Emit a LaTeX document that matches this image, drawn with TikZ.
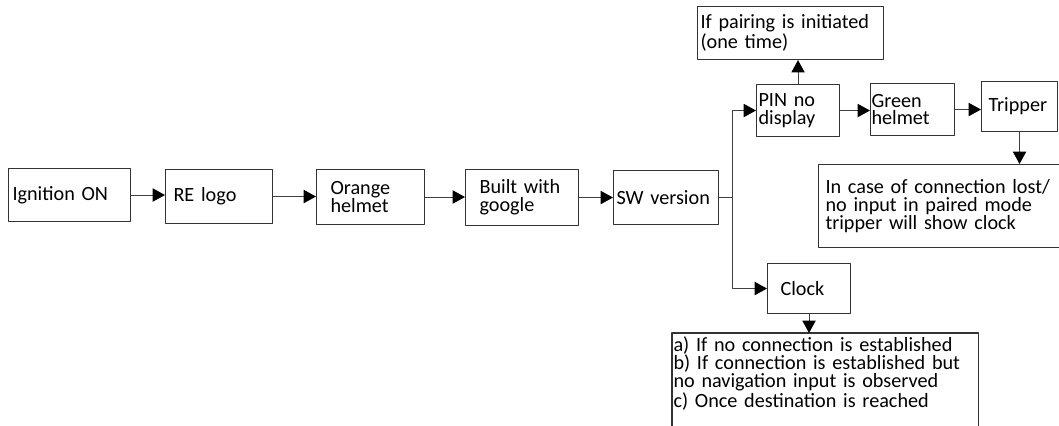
\documentclass[tikz,border=0pt]{standalone}
\usepackage{fontspec}
\setmainfont{Carlito}
\usepackage{tikz}
\usetikzlibrary{arrows.meta,positioning,calc}

\newdimen\pxu
\pxu=0.02cm

\begin{document}
\begin{tikzpicture}[x=0.02cm,y=-0.02cm,>={Triangle[length=7pt,width=7.5pt,color=black]},
    line join=round,
    box/.style={draw=black!80,line width=0.6pt,anchor=north west,align=left,
      inner ysep=0pt,font=\fontsize{11.5}{10.2}\selectfont},
    link/.style={draw=black!75,line width=0.6pt}]
  \useasboundingbox (0,0) rectangle (1059,426);
  \clip (0,0) rectangle (1059,426);

  % main row
  \node[box,inner xsep=4\pxu,text width=114\pxu,minimum height=53\pxu] (ign) at (8,168) {Ignition ON};
  \node[box,inner xsep=8\pxu,text width=91\pxu,minimum height=54\pxu] (logo) at (165,169) {RE logo};
  \node[box,inner xsep=14\pxu,text width=80\pxu,minimum height=55\pxu] (orange) at (316,169) {Orange\\helmet};
  \node[box,inner xsep=14\pxu,text width=85\pxu,minimum height=56\pxu] (built) at (465,169) {Built with\\google};
  \node[box,inner xsep=3\pxu,text width=99\pxu,minimum height=54\pxu] (sw) at (613,170) {SW version};

  % upper branch
  \node[box,inner xsep=2\pxu,text width=79\pxu,minimum height=52\pxu] (pin) at (756,84) {PIN no\\display};
  \node[box,inner xsep=3\pxu,text width=180\pxu,minimum height=53\pxu] (pair) at (697,6) {If pairing is initiated\\(one time)};
  \node[box,inner xsep=1\pxu,text width=82\pxu,minimum height=52\pxu] (green) at (870,83) {Green\\helmet};
  \node[box,inner xsep=7\pxu,text width=62\pxu,minimum height=50\pxu] (trip) at (981,81) {Tripper};
  \node[box,inner xsep=7\pxu,text width=246\pxu,minimum height=83\pxu] (lost) at (818,164) {In case of connection lost/\\no input in paired mode\\tripper will show clock};

  % lower branch
  \node[box,inner xsep=13\pxu,text width=57\pxu,minimum height=50\pxu] (clock) at (767,263) {Clock};
  \node[box,draw=none,inner xsep=1\pxu,inner ysep=3\pxu,text width=303\pxu] (cases) at (672,333) {a) If no connection is established\\b) If connection is established but\\no navigation input is observed\\c) Once destination is reached};
  \draw[box] (cases.north west) rectangle ($(cases.south east)+(0,30)$);

  \coordinate (split) at ($(sw.east)+(13,0)$);

  \draw[link,->] (ign.east) -- (ign.east -| logo.west);
  \draw[link,->] (logo.east) -- (logo.east -| orange.west);
  \draw[link,->] (orange.east) -- (orange.east -| built.west);
  \draw[link,->] (built.east) -- (built.east -| sw.west);
  \draw[link] (sw.east) -- (split);
  \draw[link,->] (split) |- (pin.west);
  \draw[link,->] (split) |- (clock.west);
  \draw[link,->] (pin.north) -- (pin.north |- pair.south);
  \draw[link,->] (pin.east) -- (pin.east -| green.west);
  \draw[link,->] (green.east) -- (green.east -| trip.west);
  \draw[link,->] (trip.south) -- (trip.south |- lost.north);
  \draw[link,->] (clock.south) -- (clock.south |- cases.north);
\end{tikzpicture}
\end{document}
